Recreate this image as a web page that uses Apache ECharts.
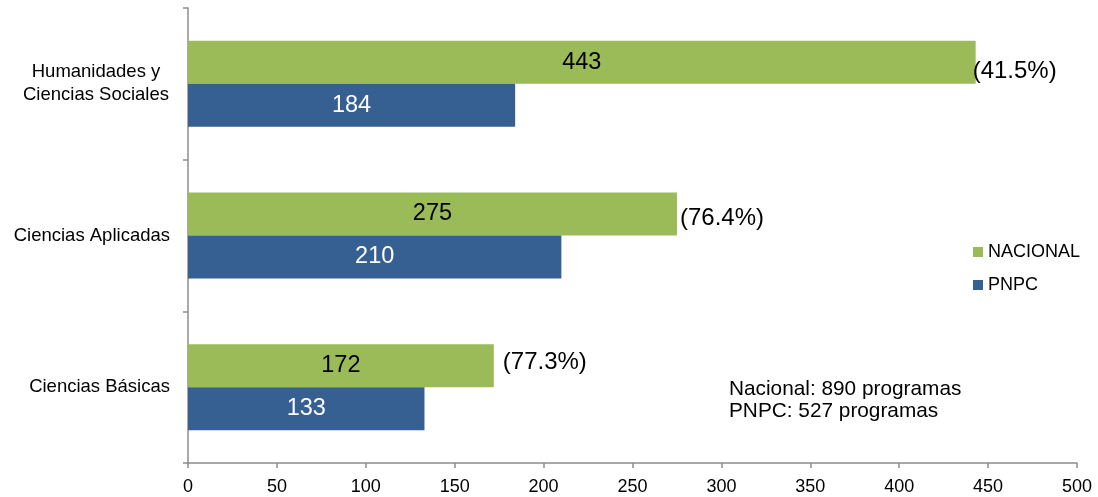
<!DOCTYPE html>
<html>
<head>
<meta charset="utf-8">
<script src="https://cdn.jsdelivr.net/npm/echarts@6/dist/echarts.min.js"></script>
<style>
  html, body { margin: 0; padding: 0; background: #fff; }
  #myChart { width: 1098px; height: 497px; }
</style>
</head>
<body>
<div id="myChart"></div>
<script>
// datos (de arriba a abajo)
var categorias = ['Humanidades y\nCiencias Sociales', 'Ciencias Aplicadas', 'Ciencias Básicas'];
var nacional = [443, 275, 172];
var pnpc = [184, 210, 133];
var porcentajes = ['(41.5%)', '(76.4%)', '(77.3%)'];
var xTicks = { min: 0, max: 500, interval: 50 };

var fuente = 'Liberation Sans, Arial, sans-serif';
var gris = '#8c8c8c';
// desplazamiento de las etiquetas de porcentaje [x, y]
var despPct = [[-3, 9], [3, 4], [9, -3]];

var myChart = echarts.init(document.getElementById('myChart'));
var option = {
  animation: false,
  backgroundColor: '#fff',
  textStyle: { fontFamily: fuente },
  grid: { left: 188, right: 21, top: 8, bottom: 34 },
  legend: {
    data: ['NACIONAL', 'PNPC'],
    orient: 'vertical',
    left: 968,
    top: 238,
    icon: 'rect',
    itemWidth: 10,
    itemHeight: 10,
    itemGap: 15,
    textStyle: { fontSize: 18, color: '#000', fontFamily: fuente }
  },
  xAxis: {
    type: 'value',
    min: xTicks.min,
    max: xTicks.max,
    interval: xTicks.interval,
    axisLine: { show: true, lineStyle: { color: gris, width: 1.5 } },
    axisTick: { show: true, length: 5, lineStyle: { color: gris, width: 1.5 } },
    axisLabel: { color: '#000', fontSize: 18, margin: 15, fontFamily: fuente },
    splitLine: { show: false }
  },
  yAxis: {
    type: 'category',
    inverse: true,
    data: categorias,
    axisLine: { show: true, lineStyle: { color: gris, width: 1.5 } },
    axisTick: { show: true, length: 5, lineStyle: { color: gris, width: 1.5 } },
    axisLabel: {
      color: '#000', fontSize: 18.5, margin: 18, lineHeight: 23, align: 'right', fontFamily: fuente,
      formatter: function (v) {
        if (v.indexOf('\n') < 0) return v;
        return v.split('\n').map(function (l) { return '{c|' + l + '}'; }).join('\n');
      },
      rich: {
        c: { width: 148, align: 'center', fontSize: 18.5, lineHeight: 23, color: '#000', fontFamily: fuente }
      }
    }
  },
  graphic: [{
    type: 'text',
    left: 729,
    top: 378,
    style: {
      text: 'Nacional: 890 programas\nPNPC: 527 programas',
      fontSize: 20.8,
      lineHeight: 22,
      fill: '#000',
      fontFamily: fuente
    }
  }],
  series: [
    {
      name: 'NACIONAL',
      type: 'bar',
      stack: 'nac',
      data: nacional,
      barWidth: 43,
      barGap: 0,
      itemStyle: { color: '#9BBB59' },
      label: { show: true, position: 'inside', color: '#000', fontSize: 23.5, fontFamily: fuente }
    },
    {
      // serie auxiliar para los porcentajes a la derecha de la barra verde
      name: 'pct',
      type: 'bar',
      stack: 'nac',
      data: nacional.map(function (v, i) {
        return { value: 0, label: { offset: despPct[i] } };
      }),
      barWidth: 43,
      itemStyle: { color: 'transparent' },
      label: {
        show: true,
        position: 'right',
        distance: 0,
        color: '#000',
        fontSize: 24,
        fontFamily: fuente,
        formatter: function (p) { return porcentajes[p.dataIndex]; }
      }
    },
    {
      name: 'PNPC',
      type: 'bar',
      data: pnpc,
      barWidth: 43,
      barGap: 0,
      itemStyle: { color: '#376092' },
      label: { show: true, position: 'inside', color: '#fff', fontSize: 23.5, fontFamily: fuente }
    }
  ]
};
myChart.setOption(option);
</script>
</body>
</html>
